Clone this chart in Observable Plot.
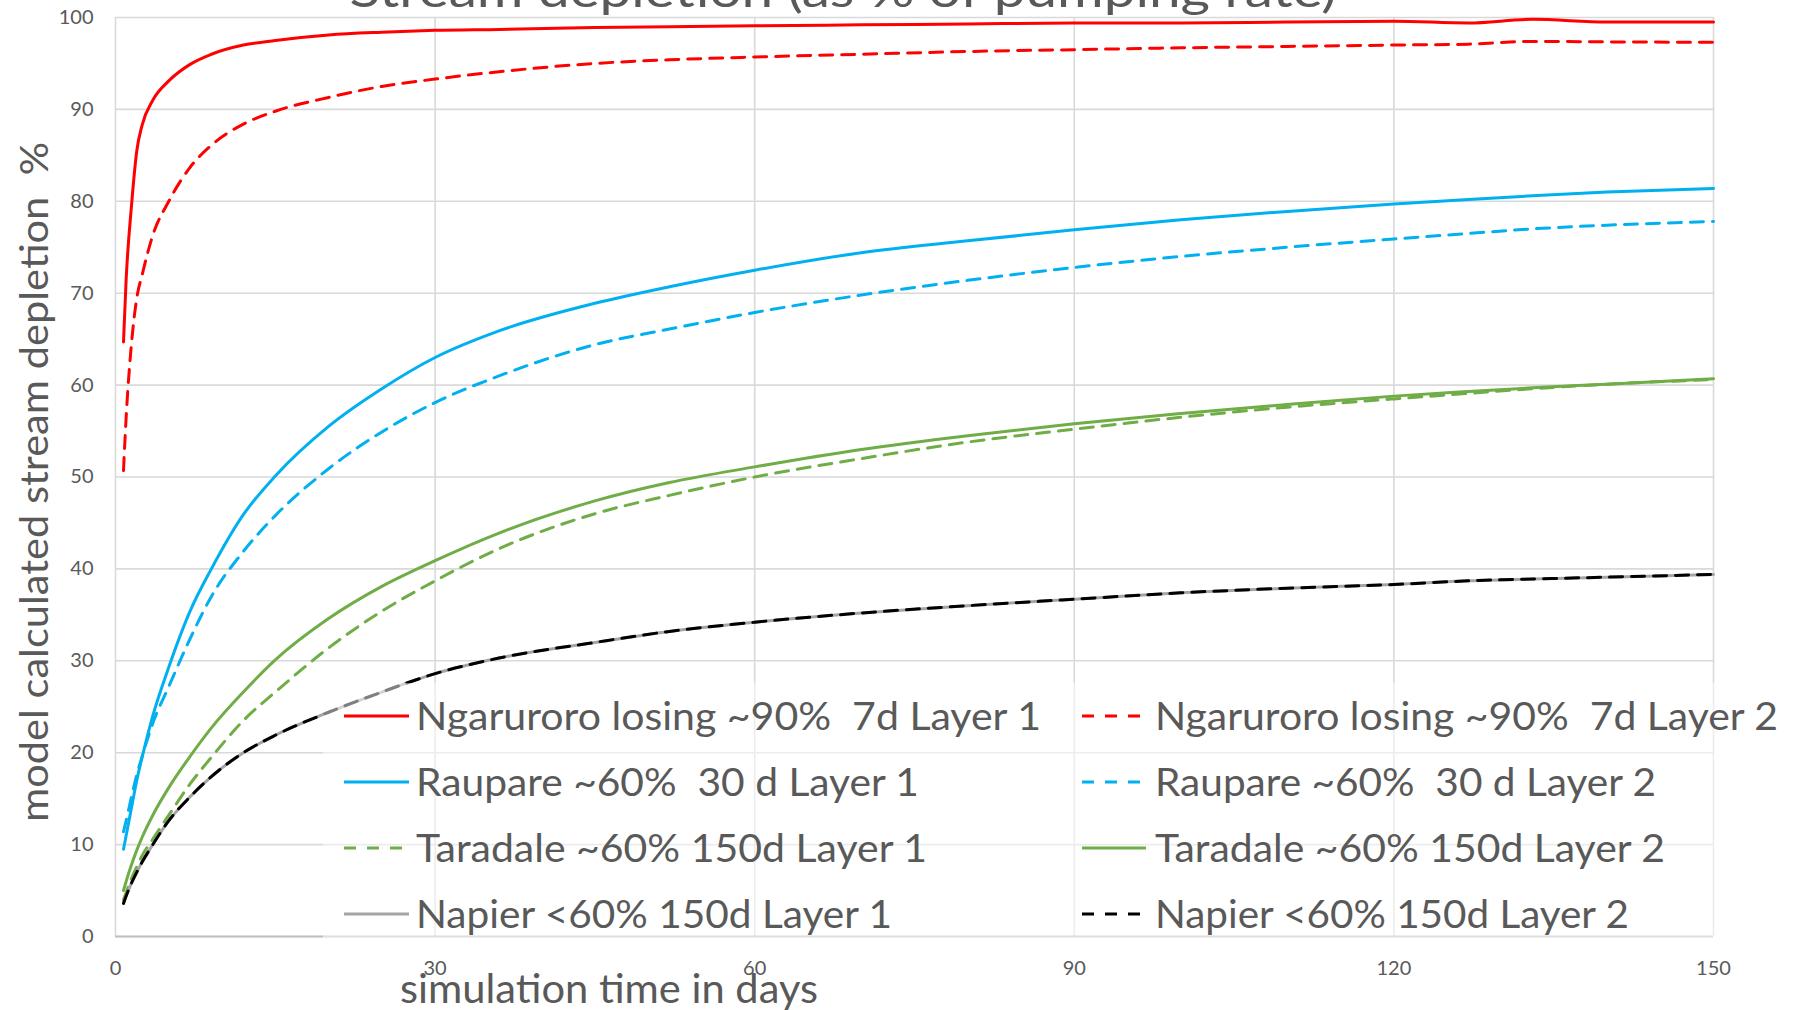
<!DOCTYPE html>
<html><head><meta charset="utf-8">
<script src="https://cdn.jsdelivr.net/npm/d3@7"></script>
<script src="https://cdn.jsdelivr.net/npm/@observablehq/plot@0.6"></script>
<style>
html,body{margin:0;padding:0;background:#fff;}
#chart{width:1797px;height:1010px;overflow:hidden;position:relative;}
#chart svg{display:block;}
</style></head><body><div id="chart"></div>
<script>
// ---- data ----
const days = [0.75, 1, 1.5, 2, 2.5, 3.5, 5, 7, 9, 12, 15, 20, 25, 30, 36, 45, 52, 60, 70, 80, 90, 100, 110, 120, 127, 133, 140, 150];
const ngaruroroL1 = [64.7, 71.5, 79.5, 85.5, 88.3, 91.0, 93.1, 94.9, 96.0, 97.0, 97.5, 98.1, 98.4, 98.6, 98.7, 98.9, 99.0, 99.1, 99.2, 99.3, 99.4, 99.4, 99.5, 99.6, 99.4, 99.8, 99.5, 99.5];
const ngaruroroL2 = [50.7, 56.5, 64.5, 69.5, 72.0, 76.3, 80.0, 83.7, 86.1, 88.4, 89.8, 91.3, 92.5, 93.3, 94.1, 95.0, 95.4, 95.7, 96.0, 96.3, 96.5, 96.7, 96.85, 97.0, 97.1, 97.4, 97.35, 97.3];
const raupareL1 = [9.5, 11.0, 14.0, 17.0, 19.5, 24.0, 29.3, 35.4, 40.0, 45.9, 50.1, 55.5, 59.6, 63.0, 65.9, 68.9, 70.7, 72.5, 74.4, 75.7, 76.9, 78.0, 78.9, 79.7, 80.2, 80.6, 81.0, 81.4];
const raupareL2 = [11.4, 12.6, 15.2, 17.6, 19.6, 23.2, 27.2, 32.4, 37.0, 41.9, 45.8, 50.9, 54.9, 58.1, 61.0, 64.4, 66.1, 67.9, 69.8, 71.4, 72.8, 74.0, 75.0, 75.9, 76.5, 77.0, 77.4, 77.8];
const taradaleL1 = [4.0, 4.8, 6.3, 7.6, 8.8, 10.6, 13.2, 16.6, 19.5, 23.5, 26.6, 31.4, 35.4, 38.7, 42.2, 46.0, 48.0, 50.0, 52.0, 53.8, 55.2, 56.5, 57.6, 58.5, 59.1, 59.6, 60.1, 60.6];
const taradaleL2 = [5.0, 6.0, 7.8, 9.4, 10.8, 13.2, 16.2, 19.6, 22.7, 26.6, 30.1, 34.6, 38.1, 40.9, 43.9, 47.4, 49.4, 51.1, 53.0, 54.5, 55.8, 56.9, 57.9, 58.8, 59.3, 59.7, 60.1, 60.7];
const napierL1 = [3.6, 4.4, 5.8, 7.0, 8.1, 10.0, 12.6, 15.2, 17.4, 20.0, 21.9, 24.4, 26.6, 28.6, 30.3, 32.0, 33.2, 34.2, 35.2, 36.0, 36.7, 37.4, 37.9, 38.3, 38.7, 38.9, 39.1, 39.4];
const napierL2 = [3.6, 4.4, 5.8, 7.0, 8.1, 10.0, 12.6, 15.2, 17.4, 20.0, 21.9, 24.4, 26.6, 28.6, 30.3, 32.0, 33.2, 34.2, 35.2, 36.0, 36.7, 37.4, 37.9, 38.3, 38.7, 38.9, 39.1, 39.4];

const seriesNames = [
  "Ngaruroro losing ~90%  7d Layer 1", "Ngaruroro losing ~90%  7d Layer 2",
  "Raupare ~60%  30 d Layer 1", "Raupare ~60%  30 d Layer 2",
  "Taradale ~60% 150d Layer 1", "Taradale ~60% 150d Layer 2",
  "Napier <60% 150d Layer 1", "Napier <60% 150d Layer 2"
];
const seriesValues = [ngaruroroL1, ngaruroroL2, raupareL1, raupareL2, taradaleL1, taradaleL2, napierL1, napierL2];
const xTicks = [0, 30, 60, 90, 120, 150];
const yTicks = [0, 10, 20, 30, 40, 50, 60, 70, 80, 90, 100];
const titleText = "Stream depletion (as % of pumping rate)";
const xLabel = "simulation time in days";
const yLabel = "model calculated stream depletion  %";

// ---- styles ----
const seriesStyle = [
  {color: "#FF0000", dash: null},
  {color: "#FF0000", dash: "13,9"},
  {color: "#00B0F0", dash: null},
  {color: "#00B0F0", dash: "13,9"},
  {color: "#70AD47", dash: "13,9"},
  {color: "#70AD47", dash: null},
  {color: "#A5A5A5", dash: null},
  {color: "#000000", dash: "13,9"}
];
const legendOrder = [[0, 2, 4, 6], [1, 3, 5, 7]];
const legendTextWidths = [[625, 503, 511, 476], [623, 501, 510, 474]];
const FONT = "Lato, Carlito, 'Open Sans', sans-serif";

const rows = seriesNames.flatMap((name, i) => days.map((d, j) => ({series: name, day: d, value: seriesValues[i][j]})));

const lineMarks = seriesNames.map((name, i) => Plot.line(rows.filter(r => r.series === name), {
  x: "day", y: "value", stroke: seriesStyle[i].color, strokeWidth: 3,
  strokeDasharray: seriesStyle[i].dash || undefined, curve: "monotone-x"
}));

const chart = Plot.plot({
  width: 1797, height: 1010,
  marginLeft: 115, marginRight: 84, marginTop: 17, marginBottom: 74,
  style: {fontFamily: FONT, fontSize: "20px", color: "#595959", background: "#fff"},
  x: {domain: [0, 150], ticks: xTicks, tickSize: 0, tickPadding: 24, label: null},
  y: {domain: [0, 100], ticks: yTicks, tickSize: 0, tickPadding: 22, label: null},
  marks: [
    Plot.ruleX(xTicks, {stroke: "#d9d9d9", strokeWidth: 1.6}),
    Plot.ruleY(yTicks, {stroke: "#d9d9d9", strokeWidth: 1.6}),
    Plot.ruleY([0], {stroke: "#bfbfbf", strokeWidth: 2}),
    ...lineMarks
  ]
});
document.getElementById("chart").appendChild(chart);

const svg = d3.select(chart);
function addText(str, x, y, size, len, anchor, rotate) {
  const t = svg.append("text")
    .attr("x", rotate ? 0 : x).attr("y", rotate ? 0 : y)
    .attr("font-family", FONT).attr("font-size", size)
    .attr("fill", "#595959").attr("text-anchor", anchor)
    .style("white-space", "pre").attr("xml:space", "preserve")
    .text(str);
  if (len) t.attr("textLength", len).attr("lengthAdjust", "spacingAndGlyphs");
  if (rotate) t.attr("transform", `translate(${x},${y}) rotate(-90)`);
  return t;
}

// legend background (semi-transparent, as in the original)
svg.append("rect").attr("x", 323).attr("y", 683).attr("width", 1470).attr("height", 270)
  .attr("fill", "#fff").attr("fill-opacity", 0.5);

const colX = [{line: [344, 409], text: 416}, {line: [1082, 1146], text: 1155}];
const rowY = [716, 782, 848, 914];
legendOrder.forEach((col, c) => col.forEach((si, r) => {
  const st = seriesStyle[si];
  svg.append("line")
    .attr("x1", colX[c].line[0]).attr("x2", colX[c].line[1])
    .attr("y1", rowY[r]).attr("y2", rowY[r])
    .attr("stroke", st.color).attr("stroke-width", 3)
    .attr("stroke-dasharray", st.dash ? "12,11" : null);
  addText(seriesNames[si], colX[c].text, rowY[r] + 14, 39, legendTextWidths[c][r], "start");
}));

// title (partly cut off at top), axis titles
addText(titleText, 843, 7, 46, 987, "middle");
addText(xLabel, 400, 1003, 40, 418, "start");
addText(yLabel, 48, 482, 39, 680, "middle", true);
</script>
</body></html>
